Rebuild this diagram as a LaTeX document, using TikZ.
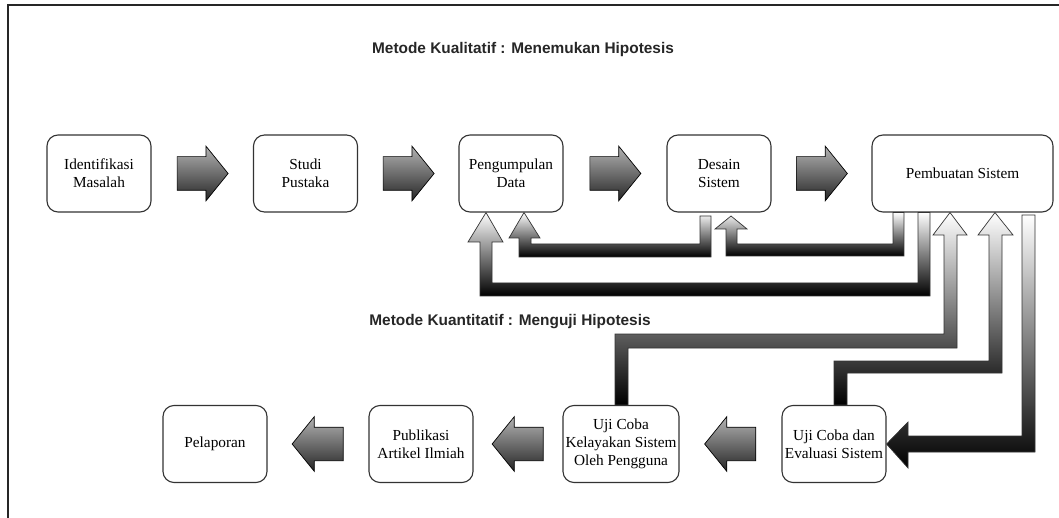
\documentclass[tikz,border=0pt]{standalone}
\usepackage{fontspec}
\setmainfont{Liberation Serif}
\newfontfamily\headfont{Liberation Sans}
\usetikzlibrary{shapes.arrows, calc, backgrounds}

\begin{document}
\begin{tikzpicture}[x=1pt, y=-1pt,
  stage/.style={draw=black!80, line width=1.1pt, rounded corners=11pt, fill=white,
    minimum width=104pt, minimum height=77pt, align=center, inner sep=1pt,
    font=\fontsize{15.3}{18}\selectfont},
  head/.style={font=\headfont\bfseries\fontsize{15.4}{18}\selectfont, text=black!85},
  fwd/.style={single arrow, draw=black, line width=0.7pt,
    top color=black!30, bottom color=black!85,
    minimum height=51pt, minimum width=54pt, single arrow head extend=10.5pt,
    single arrow tip angle=102, inner xsep=0pt, inner ysep=16.5pt, anchor=tail},
  bwd/.style={fwd, shape border rotate=180},
  flex/.style={draw=black!80, line width=0.7pt, top color=white, bottom color=black}]
\useasboundingbox (0,0) rectangle (1059,518);
\draw[line width=1.3pt, black!85] (8,518) -- (8,5) -- (1059,5);

\node[head] (ttl1) at (523,50) {Metode Kualitatif : Menemukan Hipotesis};
\node[head] (ttl2) at (510,322) {Metode Kuantitatif : Menguji Hipotesis};

% upper row
\node[stage] (idm) at (99,173.5) {Identifikasi\\Masalah};
\node[stage] (stp) at (305.5,173.5) {Studi\\Pustaka};
\node[stage] (pgd) at (511,173.5) {Pengumpulan\\Data};
\node[stage] (des) at (719,173.5) {Desain\\Sistem};
\node[stage, minimum width=181pt] (pbs) at (962.5,173.5) {Pembuatan Sistem};

% lower row
\node[stage] (plp) at (215,444) {Pelaporan};
\node[stage] (pub) at (421,444) {Publikasi\\Artikel Ilmiah};
\node[stage, minimum width=116pt] (ujk) at (621,444) {Uji Coba\\Kelayakan Sistem\\Oleh Pengguna};
\node[stage] (uje) at (834,444) {Uji Coba dan\\Evaluasi Sistem};

% block arrows between the boxes
\node[fwd] (a1) at ($(idm.east)!0.5!(stp.west)+(-25.5,0)$) {};
\node[fwd] (a2) at ($(stp.east)!0.5!(pgd.west)+(-25.5,0)$) {};
\node[fwd] (a3) at ($(pgd.east)!0.5!(des.west)+(-25.5,0)$) {};
\node[fwd] (a4) at ($(des.east)!0.5!(pbs.west)+(-25.5,0)$) {};
\node[bwd] (b1) at ($(uje.west)!0.5!(ujk.east)+(25.5,0)$) {};
\node[bwd] (b2) at ($(ujk.west)!0.5!(pub.east)+(25.5,0)$) {};
\node[bwd] (b3) at ($(pub.west)!0.5!(plp.east)+(25.5,0)$) {};

% feedback arrows
\begin{scope}[on background layer]
\draw[flex] (700,216) -- (711,216) -- (711,257) -- (519,257) -- (519,238) -- (509,238)
  -- (524,0 |- pgd.south) -- (540,238) -- (531,238) -- (531,244) -- (700,244) -- cycle;
\draw[flex] (893,0 |- pbs.south) -- (904,0 |- pbs.south) -- (904,256) -- (726,256) -- (726,229)
  -- (715,229) -- (731,216) -- (747,229) -- (737,229) -- (737,244) -- (893,244) -- cycle;
\draw[flex] (918,0 |- pbs.south) -- (930,0 |- pbs.south) -- (930,296) -- (480,296) -- (480,242)
  -- (468,242) -- (486,0 |- pgd.south) -- (503,242) -- (492,242) -- (492,283) -- (918,283) -- cycle;
\draw[flex] (615,0 |- ujk.north) -- (615,334) -- (944,334) -- (944,235) -- (933,235)
  -- (950,0 |- pbs.south) -- (967,235) -- (957,235) -- (957,348) -- (628,348) -- (628,0 |- ujk.north) -- cycle;
\draw[flex] (834,0 |- uje.north) -- (834,361) -- (989,361) -- (989,235) -- (978,235)
  -- (995,0 |- pbs.south) -- (1013,235) -- (1002,235) -- (1002,373) -- (847,373) -- (847,0 |- uje.north) -- cycle;
\draw[flex] (1022,215) -- (1035,215) -- (1035,452) -- (908,452) -- (908,468)
  -- (uje.east) -- (908,422) -- (908,436) -- (1022,436) -- cycle;
\end{scope}
\end{tikzpicture}
\end{document}
